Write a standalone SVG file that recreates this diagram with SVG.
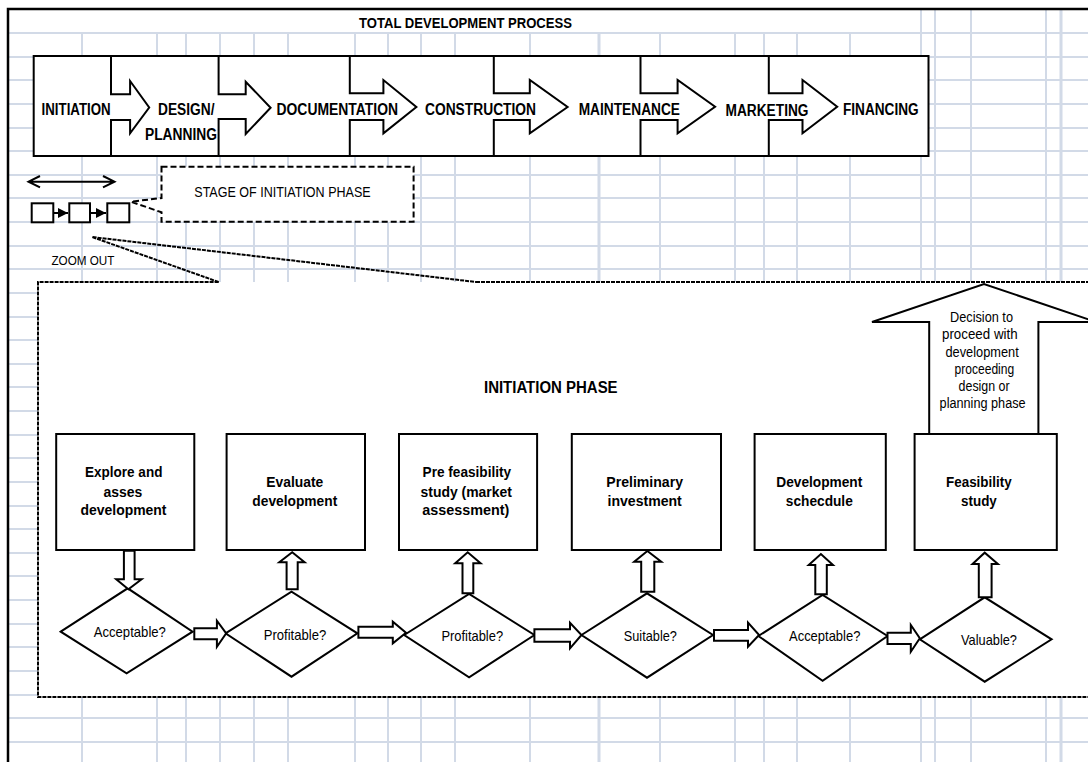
<svg xmlns="http://www.w3.org/2000/svg" width="1088" height="762" viewBox="0 0 1088 762">
  <defs>
    <style>
      .grid { stroke: #d2dae7; stroke-width: 2; fill: none; }
      .gridb { stroke: #d2dae7; stroke-width: 3; fill: none; }
      .frame { stroke: #000; stroke-width: 2.5; fill: none; }
      .box { fill: #fff; stroke: #000; stroke-width: 2; }
      .line { fill: none; stroke: #000; stroke-width: 2; stroke-linejoin: miter; }
      .blk { fill: #fff; stroke: #000; stroke-width: 2; stroke-linejoin: miter; }
      .dash { fill: #fff; stroke: #000; stroke-width: 2; stroke-dasharray: 6 3; }
      .dot { fill: none; stroke: #000; stroke-width: 2; stroke-dasharray: 4 1; }
      text { font-family: "Liberation Sans", Arial, sans-serif; fill: #000; }
      .b16 { font-size: 16px; font-weight: bold; }
      .b15 { font-size: 15.5px; font-weight: bold; }
      .r14 { font-size: 14.5px; }
      .r13 { font-size: 14px; }
    </style>
    <marker id="tri" viewBox="0 0 10 10" refX="10" refY="5" markerWidth="10" markerHeight="10" markerUnits="userSpaceOnUse" orient="auto">
      <path d="M0,0 L10,5 L0,10 Z" fill="#000"/>
    </marker>
  </defs>

  <rect width="1088" height="762" fill="#fff"/>

  <!-- sheet grid -->
  <g id="grid">
    <path class="grid" d="M8,33H1088M8,57H1088M8,80H1088M8,104H1088M8,128H1088M8,151H1088M8,175H1088M8,198H1088M8,222H1088M8,246H1088M8,269H1088M8,293H1088M8,317H1088M8,340H1088M8,364H1088M8,387H1088M8,411H1088M8,435H1088M8,458H1088M8,482H1088M8,506H1088M8,529H1088M8,553H1088M8,576H1088M8,600H1088M8,624H1088M8,647H1088M8,671H1088M8,695H1088M8,718H1088M8,742H1088"/>
    <path class="grid" d="M82,33V762M157,33V762M186,33V762M220,33V762M254,33V762M288,33V762M355,33V762M388,33V762M421,33V762M455,33V762M530,33V762M660,33V762M735,33V762M764,33V762M797,33V762M850,33V762M921,10V762M935,10V762M971,10V762M1046,10V762"/>
    <path class="gridb" d="M599,33V762M1061,10V762"/>
  </g>

  <!-- outer frame -->
  <path class="frame" d="M8,762V9H1088"/>

  <text id="title" class="b16" style="font-size:14px" x="359" y="28" textLength="213" lengthAdjust="spacingAndGlyphs">TOTAL DEVELOPMENT PROCESS</text>

  <!-- total development process bar -->
  <g id="process-bar">
    <rect class="box" x="33.7" y="56" width="894.8" height="100"/>
    <path class="line" d="M111,56V94.3H130.1V81L149.2,107.5L130.1,133.3V120H111V156"/>
    <path class="line" d="M218.6,56V94.3H245.7V81.7L270.6,107.8L245.7,134V119H218.6V156"/>
    <path class="line" d="M349.8,56V93.3H383.4V80L416.4,107L383.4,133.3V120H349.8V156"/>
    <path class="line" d="M493.8,56V93.3H529.8V80L567.6,107L529.8,133.3V120H493.8V156"/>
    <path class="line" d="M640.5,56V93.3H677.6V80L715.1,106.7L677.6,133.3V120H640.5V156"/>
    <path class="line" d="M768.8,56V93.3H802.5V80L837.2,106.7L802.5,133.3V120H768.8V156"/>
    <text class="b16" x="41.6" y="115" textLength="69" lengthAdjust="spacingAndGlyphs">INITIATION</text>
    <text class="b16" x="158" y="115" textLength="56.5" lengthAdjust="spacingAndGlyphs">DESIGN/</text>
    <text class="b16" x="145" y="140" textLength="72" lengthAdjust="spacingAndGlyphs">PLANNING</text>
    <text class="b16" x="276.5" y="115" textLength="121.5" lengthAdjust="spacingAndGlyphs">DOCUMENTATION</text>
    <text class="b16" x="425" y="115" textLength="111" lengthAdjust="spacingAndGlyphs">CONSTRUCTION</text>
    <text class="b16" x="578.7" y="115" textLength="101.3" lengthAdjust="spacingAndGlyphs">MAINTENANCE</text>
    <text class="b16" x="725.5" y="116" textLength="83" lengthAdjust="spacingAndGlyphs">MARKETING</text>
    <text class="b16" x="843" y="115" textLength="75.6" lengthAdjust="spacingAndGlyphs">FINANCING</text>
  </g>

  <!-- stage strip and its span -->
  <g id="stage-strip">
    <path class="line" d="M29,181.7H114.5M40,176L28.5,181.7L40,187.4M103,176L114.5,181.7L103,187.4"/>
    <rect class="box" x="31.7" y="203.3" width="21.6" height="19"/>
    <rect class="box" x="69.3" y="203.3" width="20.7" height="19"/>
    <rect class="box" x="107.3" y="203.3" width="22" height="19"/>
  </g>

  <g id="stage-callout">
    <path class="dash" d="M161.5,166.7H413.6V221.7H161.5V212.3L131,201.7L161.5,198Z"/>
    <text class="r14" x="194.3" y="196.7" textLength="176.3" lengthAdjust="spacingAndGlyphs">STAGE OF INITIATION PHASE</text>
  </g>

  <text id="zoom-out" class="r13" style="font-size:12.5px" x="51.4" y="264.5" textLength="63" lengthAdjust="spacingAndGlyphs">ZOOM OUT</text>

  <!-- initiation phase panel -->
  <g id="phase-panel">
    <rect x="38" y="282" width="1052" height="415" fill="#fff"/>
    <path class="dot" d="M218.6,282H38V697H1090M476,282H1090"/>
    <text class="b16" x="484" y="393.3" textLength="133.6" lengthAdjust="spacingAndGlyphs">INITIATION  PHASE</text>
  </g>

  <g id="decision-arrow">
    <path class="blk" d="M929.2,434V322H872L984,284L1096,322H1038.4V434"/>
    <text class="r13" x="950" y="322" textLength="63" lengthAdjust="spacingAndGlyphs">Decision to</text>
    <text class="r13" x="942" y="339.3" textLength="75.6" lengthAdjust="spacingAndGlyphs">proceed with</text>
    <text class="r13" x="945.5" y="356.8" textLength="73.2" lengthAdjust="spacingAndGlyphs">development</text>
    <text class="r13" x="954.5" y="373.8" textLength="59.7" lengthAdjust="spacingAndGlyphs">proceeding</text>
    <text class="r13" x="958.6" y="391" textLength="51" lengthAdjust="spacingAndGlyphs">design or</text>
    <text class="r13" x="939.6" y="408" textLength="86" lengthAdjust="spacingAndGlyphs">planning phase</text>
  </g>

  <!-- activity boxes -->
  <g id="explore">
    <rect class="box" x="56.2" y="434" width="138.1" height="116"/>
    <text class="b15" x="85" y="476.7" textLength="77.4" lengthAdjust="spacingAndGlyphs">Explore and</text>
    <text class="b15" x="103.4" y="496.5" textLength="38.9" lengthAdjust="spacingAndGlyphs">asses</text>
    <text class="b15" x="80.5" y="515" textLength="86" lengthAdjust="spacingAndGlyphs">development</text>
  </g>
  <g id="evaluate">
    <rect class="box" x="226.6" y="434" width="138.4" height="116"/>
    <text class="b15" x="266.3" y="486.5" textLength="57" lengthAdjust="spacingAndGlyphs">Evaluate</text>
    <text class="b15" x="252.3" y="505.5" textLength="85" lengthAdjust="spacingAndGlyphs">development</text>
  </g>
  <g id="prefeasibility">
    <rect class="box" x="399" y="434" width="138.1" height="116"/>
    <text class="b15" x="422.6" y="476.7" textLength="88.5" lengthAdjust="spacingAndGlyphs">Pre feasibility</text>
    <text class="b15" x="420.5" y="496.5" textLength="91.3" lengthAdjust="spacingAndGlyphs">study (market</text>
    <text class="b15" x="422.3" y="515" textLength="87.1" lengthAdjust="spacingAndGlyphs">assessment)</text>
  </g>
  <g id="preliminary">
    <rect class="box" x="571.8" y="434" width="149.2" height="116"/>
    <text class="b15" x="606.3" y="486.5" textLength="76.7" lengthAdjust="spacingAndGlyphs">Preliminary</text>
    <text class="b15" x="607.5" y="505.5" textLength="74.3" lengthAdjust="spacingAndGlyphs">investment</text>
  </g>
  <g id="schedule">
    <rect class="box" x="754.6" y="434" width="131.2" height="116"/>
    <text class="b15" x="776.3" y="486.5" textLength="86" lengthAdjust="spacingAndGlyphs">Development</text>
    <text class="b15" x="785.8" y="505.5" textLength="67" lengthAdjust="spacingAndGlyphs">schecdule</text>
  </g>
  <g id="feasibility">
    <rect class="box" x="914.6" y="434" width="142.2" height="116"/>
    <text class="b15" x="946" y="486.5" textLength="65.7" lengthAdjust="spacingAndGlyphs">Feasibility</text>
    <text class="b15" x="961" y="505.5" textLength="35.8" lengthAdjust="spacingAndGlyphs">study</text>
  </g>

  <!-- decisions -->
  <g id="q-acceptable-1">
    <path class="blk" d="M60.7,631.7L127.7,588.3L192.6,631.7L126.6,673.3Z"/>
    <text class="r14" x="93.7" y="636.7" textLength="72.2" lengthAdjust="spacingAndGlyphs">Acceptable?</text>
  </g>
  <g id="q-profitable-1">
    <path class="blk" d="M225.5,633.3L291.5,591.7L357.4,633.3L291.5,676.7Z"/>
    <text class="r14" x="263.7" y="640" textLength="62.5" lengthAdjust="spacingAndGlyphs">Profitable?</text>
  </g>
  <g id="q-profitable-2">
    <path class="blk" d="M404.2,635L469.1,594L534.4,635L469.1,677.3Z"/>
    <text class="r14" x="441.4" y="640.7" textLength="61.7" lengthAdjust="spacingAndGlyphs">Profitable?</text>
  </g>
  <g id="q-suitable">
    <path class="blk" d="M581.5,635L647,593.3L713,635L647,677.7Z"/>
    <text class="r14" x="623.8" y="640.7" textLength="53.1" lengthAdjust="spacingAndGlyphs">Suitable?</text>
  </g>
  <g id="q-acceptable-2">
    <path class="blk" d="M758.4,636L822.6,595L887.5,636L822.6,680.7Z"/>
    <text class="r14" x="789" y="640.7" textLength="71.4" lengthAdjust="spacingAndGlyphs">Acceptable?</text>
  </g>
  <g id="q-valuable">
    <path class="blk" d="M919.8,639.3L984.7,597.3L1051.6,639.3L984.7,681.7Z"/>
    <text class="r14" x="961" y="645" textLength="56" lengthAdjust="spacingAndGlyphs">Valuable?</text>
  </g>

  <!-- connectors -->
  <g id="connectors">
    <!-- stage strip links -->
    <path class="line" d="M53.3,213H68" marker-end="url(#tri)"/>
    <path class="line" d="M90,213H106" marker-end="url(#tri)"/>
    <!-- zoom-out lead lines -->
    <path class="dot" d="M218.6,282L92,237L476,282"/>
    <!-- box to decision -->
    <path class="blk" d="M123.9,550.7V579.3H116.2L128.4,589.3L141.6,579.3H134.6V550.7Z"/>
    <!-- decisions up to boxes -->
    <path class="blk" d="M286.6,589.3V562.3H279.3L292.2,552.3L304.6,562.3H297.7V589.3Z"/>
    <path class="blk" d="M462.5,593.3V563.3H455.2L467.7,552.3L480.6,563.3H473.3V593.3Z"/>
    <path class="blk" d="M641.2,591.7V561.7H634.2L647.4,551L661.3,561.7H654.3V591.7Z"/>
    <path class="blk" d="M815.3,594.3V565H808.7L820.9,554L833,565H826.8V594.3Z"/>
    <path class="blk" d="M978.8,597.3V564H972.5L984.7,552.7L997.9,564H991.6V597.3Z"/>
    <!-- decision to decision -->
    <path class="blk" d="M194.3,628.3H216.9V620.7L226.2,633.3L216.9,646.7V639.3H194.3Z"/>
    <path class="blk" d="M358.4,626.7H392.8V621.7L406,632.7L392.8,643.3V637.7H358.4Z"/>
    <path class="blk" d="M534.4,629.3H570V622.7L581.5,635L570,648.3V641.7H534.4Z"/>
    <path class="blk" d="M714,630H748V622.7L759.1,635L748,646.7V640.7H714Z"/>
    <path class="blk" d="M887.5,632.7H910.8V625L919.8,638.3L910.8,651.7V644H887.5Z"/>
  </g>
</svg>
